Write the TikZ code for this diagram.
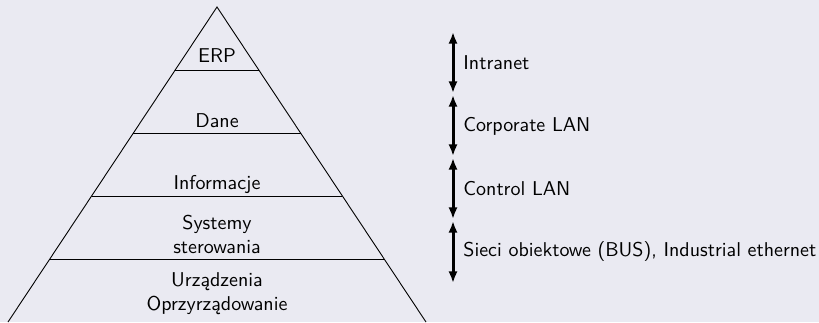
\documentclass[tikz,border=0pt]{standalone}
\usepackage{fontspec}
\usetikzlibrary{calc,arrows.meta}
\definecolor{bgcol}{HTML}{EAEAF2}
\begin{document}
\begin{tikzpicture}[x=0.5pt,y=-0.5pt,
  edge/.style={draw=black,line width=0.45pt},
  layer/.style={font=\sffamily,align=center,inner sep=0pt,text=black},
  netlabel/.style={font=\sffamily,anchor=west,inner sep=0pt,text=black},
  span/.style={line width=1.5pt,{Latex[length=5.8pt,width=4.6pt]}-{Latex[length=5.8pt,width=4.6pt]}}]
  % canvas
  \fill[bgcol] (0,0) rectangle (819,322);
  \useasboundingbox (0,0) rectangle (819,322);

  % pyramid outline
  \coordinate (apex) at (217,7);
  \coordinate (baseL) at (8,322);
  \coordinate (baseR) at (426,322);
  \draw[edge] (baseL) -- (apex) -- (baseR);

  % layer separators at equal fifths of the height
  \foreach \t/\n in {0.2/a,0.4/b,0.6/c,0.8/d}{
    \coordinate (sepL\n) at ($(apex)!\t!(baseL)$);
    \coordinate (sepR\n) at ($(apex)!\t!(baseR)$);
    \draw[edge] (sepL\n) -- (sepR\n);
  }

  % layer names
  \node[layer] (erp)  at (217,56)  {ERP};
  \node[layer] (dane) at (217,121) {Dane};
  \node[layer] (info) at (217,184) {Informacje};
  \node[layer] (sys)  at (217,234) {Systemy\\sterowania};
  \node[layer] (dev)  at (217,294) {Urządzenia\\Oprzyrządowanie};

  % network spans
  \coordinate (n1t) at (453,32);  \coordinate (n1b) at (453,93);
  \coordinate (n2t) at (453,95);  \coordinate (n2b) at (453,156);
  \coordinate (n3t) at (453,158); \coordinate (n3b) at (453,219);
  \coordinate (n4t) at (453,221); \coordinate (n4b) at (453,283);
  \draw[span] (n1t) -- (n1b);
  \draw[span] (n2t) -- (n2b);
  \draw[span] (n3t) -- (n3b);
  \draw[span] (n4t) -- (n4b);

  \node[netlabel] (intranet) at (463,63)  {Intranet};
  \node[netlabel] (corp)     at (463,126) {Corporate LAN};
  \node[netlabel] (ctrl)     at (463,189) {Control LAN};
  \node[netlabel] (field)    at (463,251) {Sieci obiektowe (BUS), Industrial ethernet};
\end{tikzpicture}
\end{document}
